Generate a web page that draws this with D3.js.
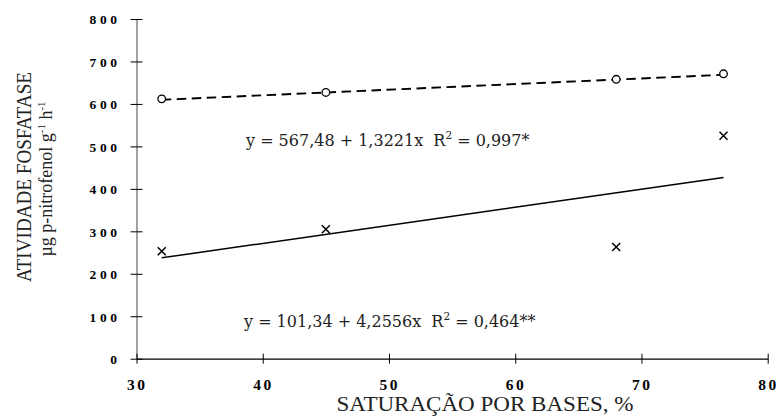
<!DOCTYPE html>
<html>
<head>
<meta charset="utf-8">
<script src="https://cdn.jsdelivr.net/npm/d3@7"></script>
<style>
  html, body { margin: 0; padding: 0; background: #fff; }
  svg { display: block; }
</style>
</head>
<body>
<svg id="chart" width="778" height="416"></svg>
<script>
// ---- data ----
const xValues = [32, 45, 68, 76.5];
const circleValues = [612, 627, 658, 671];
const crossValues = [253, 305, 263, 525];
const xTicks = [30, 40, 50, 60, 70, 80];
const yTicks = [0, 100, 200, 300, 400, 500, 600, 700, 800];
const fitCircle = [567.48, 1.3221];
const fitCross = [101.34, 4.2556];
const eqCircle = ["y = 567,48 + 1,3221x  R", "2", " = 0,997*"];
const eqCross = ["y = 101,34 + 4,2556x  R", "2", " = 0,464**"];
const xTitle = "SATURAÇÃO POR BASES, %";
const yTitle1 = "ATIVIDADE FOSFATASE";
const yTitle2 = ["µg p-nitrofenol g", "-1", " h", "-1"];

// ---- layout ----
const svg = d3.select("#chart");
const x = d3.scaleLinear().domain([30, 80]).range([136.5, 767.7]);
const y = d3.scaleLinear().domain([0, 800]).range([358.7, 19]);
const serif = "'Liberation Serif', 'Times New Roman', serif";

// spaced digits without trailing spacing
function spacedDigits(sel, gap) {
  sel.each(function () {
    const t = d3.select(this);
    const s = t.text();
    t.text(null);
    s.split("").forEach((ch, i) => {
      t.append("tspan").attr("dx", i === 0 ? 0 : gap).text(ch);
    });
  });
}

// y axis
const yAxis = svg.append("g").attr("transform", `translate(${x(30)},0)`)
  .call(d3.axisLeft(y).tickValues(yTicks).tickSize(6).tickSizeOuter(0).tickFormat(d3.format("d")));
yAxis.select(".domain").attr("stroke", "#707070").attr("stroke-width", 1.3);
yAxis.selectAll(".tick line").attr("x1", -6).attr("x2", 6).attr("stroke", "#000").attr("stroke-width", 1);
yAxis.selectAll(".tick text")
  .attr("x", -19.5).attr("dy", "0.36em")
  .style("font-family", serif).style("font-weight", "bold").style("font-size", "13.5px")
  .attr("fill", "#000")
  .call(spacedDigits, 3.6);

// x axis
const xAxis = svg.append("g").attr("transform", `translate(0,${y(0)})`)
  .call(d3.axisBottom(x).tickValues(xTicks).tickSize(5).tickSizeOuter(0).tickFormat(d3.format("d")));
xAxis.select(".domain").attr("stroke", "#000").attr("stroke-width", 1.2);
xAxis.selectAll(".tick line").attr("y1", -5).attr("y2", 5).attr("stroke", "#000");
xAxis.selectAll(".tick text")
  .attr("y", 31).attr("dy", 0).attr("x", -1)
  .style("font-family", serif).style("font-weight", "bold").style("font-size", "15.5px")
  .attr("fill", "#000")
  .call(spacedDigits, 2.6);

// fit lines
function fitLine(c) {
  const xs = [d3.min(xValues), d3.max(xValues)];
  return xs.map(v => [x(v), y(c[0] + c[1] * v)]);
}
svg.append("path").attr("d", d3.line()(fitLine(fitCircle)))
  .attr("fill", "none").attr("stroke", "#000").attr("stroke-width", 1.9)
  .attr("stroke-dasharray", "9.5,5.5");
svg.append("path").attr("d", d3.line()(fitLine(fitCross)))
  .attr("fill", "none").attr("stroke", "#000").attr("stroke-width", 1.5);

// circle markers
svg.append("g").selectAll("circle").data(xValues).join("circle")
  .attr("cx", d => x(d)).attr("cy", (d, i) => y(circleValues[i]))
  .attr("r", 3.8).attr("fill", "#fff").attr("stroke", "#000").attr("stroke-width", 1.3);

// cross markers
const cs = 4;
svg.append("g").selectAll("path").data(xValues).join("path")
  .attr("d", (d, i) => {
    const cx = x(d), cy = y(crossValues[i]);
    return `M${cx - cs},${cy - cs}L${cx + cs},${cy + cs}M${cx - cs},${cy + cs}L${cx + cs},${cy - cs}`;
  })
  .attr("stroke", "#000").attr("stroke-width", 1.5).attr("fill", "none");

// equations
function equation(parts, px, py) {
  const t = svg.append("text").attr("x", px).attr("y", py)
    .style("font-family", "'DejaVu Serif', serif").style("font-size", "16px")
    .style("white-space", "pre").attr("fill", "#222");
  t.append("tspan").text(parts[0]);
  t.append("tspan").text(parts[1]).attr("dy", -7).style("font-size", "10.5px");
  t.append("tspan").text(parts[2]).attr("dy", 7);
}
equation(eqCircle, 246, 145.5);
equation(eqCross, 244, 326.5);

// axis titles
svg.append("text").attr("x", 485).attr("y", 411).attr("text-anchor", "middle")
  .attr("textLength", 297).attr("lengthAdjust", "spacingAndGlyphs")
  .style("font-family", serif).style("font-size", "20px").attr("fill", "#222").text(xTitle);

svg.append("text").attr("transform", "translate(30.5,177) rotate(-90)").attr("text-anchor", "middle")
  .attr("textLength", 210).attr("lengthAdjust", "spacingAndGlyphs")
  .style("font-family", serif).style("font-size", "20px").attr("fill", "#222").text(yTitle1);

const t2 = svg.append("text").attr("transform", "translate(51.5,179) rotate(-90)").attr("text-anchor", "middle")
  .style("font-family", serif).style("font-size", "18px").attr("fill", "#222");
t2.append("tspan").text(yTitle2[0]);
t2.append("tspan").text(yTitle2[1]).attr("dy", -7).style("font-size", "11px");
t2.append("tspan").text(yTitle2[2]).attr("dy", 7);
t2.append("tspan").text(yTitle2[3]).attr("dy", -7).style("font-size", "11px");
</script>
</body>
</html>
